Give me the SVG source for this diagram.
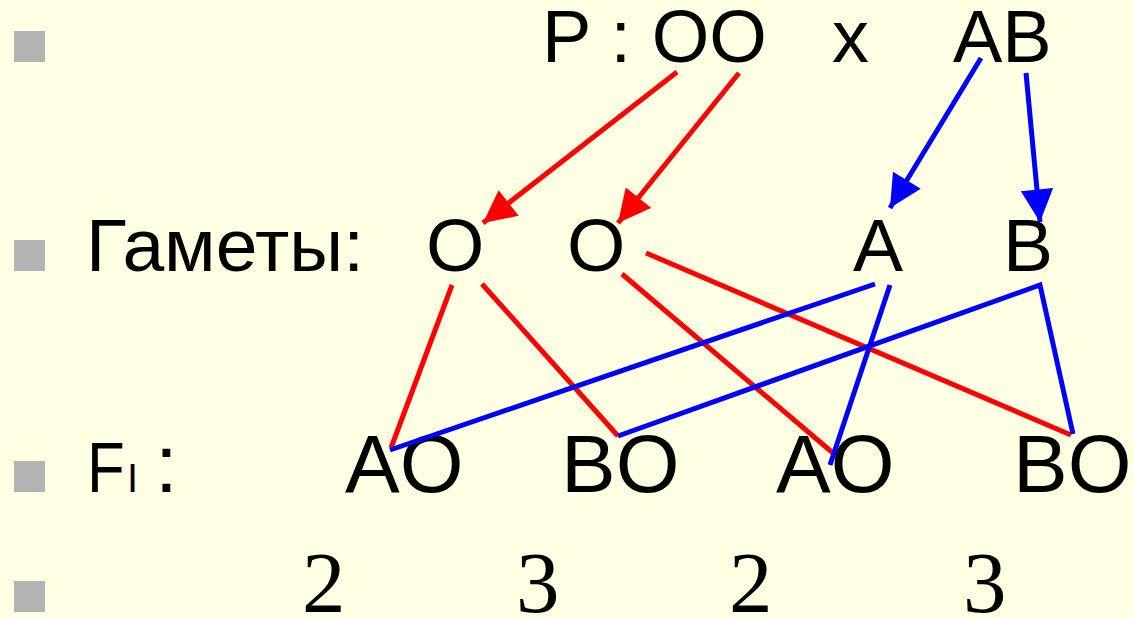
<svg xmlns="http://www.w3.org/2000/svg" width="1134" height="618" viewBox="0 0 1134 618">
<style>
.t{font-family:"Liberation Sans",Arial,sans-serif;fill:#000}
.r1{font-size:74px}
.r2{font-size:75px}
.r3{font-size:82px}
.n{font-family:"Liberation Serif","Times New Roman",serif;font-size:87px;fill:#000}
.b{fill:#b3b3b3}
.red{stroke:#ff0000;stroke-width:5;fill:none}
.blue{stroke:#0000ff;stroke-width:5;fill:none}
</style>
<defs>
<marker id="ar" viewBox="0 0 10 10" refX="10" refY="5" markerWidth="7" markerHeight="6.5" markerUnits="strokeWidth" orient="auto"><path d="M0,0 L10,5 L0,10 z" fill="#ff0000"/></marker>
<marker id="ab" viewBox="0 0 10 10" refX="10" refY="5" markerWidth="7" markerHeight="6.5" markerUnits="strokeWidth" orient="auto"><path d="M0,0 L10,5 L0,10 z" fill="#0000ff"/></marker>
</defs>
<rect width="1134" height="618" fill="#ffffe3"/>
<g id="bullets">
<rect class="b" x="14" y="31" width="31" height="31"/>
<rect class="b" x="14" y="240" width="31" height="31"/>
<rect class="b" x="14" y="461" width="31" height="31"/>
<rect class="b" x="14" y="581" width="31" height="31"/>
</g>
<g id="parents">
<text class="t r1" x="542" y="62">P : OO</text>
<text class="t r1" x="832" y="62">x</text>
<text class="t r1" x="953" y="62">AB</text>
</g>
<g id="gametes-label"><text class="t r2" x="86" y="271">Гаметы:</text></g>
<g id="gamete-O1"><text class="t r2" x="426" y="271">O</text></g>
<g id="gamete-O2"><text class="t r2" x="567" y="271">O</text></g>
<g id="gamete-A"><text class="t r2" x="853" y="271">A</text></g>
<g id="gamete-B"><text class="t r2" x="1003" y="271">B</text></g>
<g id="f1-label">
<text class="t" style="font-size:71px" transform="translate(87,492) scale(0.87,1)" x="0" y="0">F</text>
<text class="t" style="font-size:40px" x="127" y="492">I</text>
<text class="t r3" x="155" y="492">:</text>
</g>
<g id="f1-AO1"><text class="t r3" x="345" y="492">AO</text></g>
<g id="f1-BO1"><text class="t r3" x="561" y="492">BO</text></g>
<g id="f1-AO2"><text class="t r3" x="776" y="492">AO</text></g>
<g id="f1-BO2"><text class="t r3" x="1013" y="492">BO</text></g>
<g id="ratios">
<text class="n" x="302" y="612">2</text>
<text class="n" x="516" y="612">3</text>
<text class="n" x="729" y="612">2</text>
<text class="n" x="963" y="612">3</text>
</g>
<g id="connectors">
<line class="red" x1="677" y1="72" x2="483" y2="223" marker-end="url(#ar)"/>
<line class="red" x1="739" y1="73" x2="618" y2="223" marker-end="url(#ar)"/>
<line class="blue" x1="981" y1="58" x2="890" y2="208" marker-end="url(#ab)"/>
<line class="blue" x1="1026" y1="73" x2="1040" y2="222" marker-end="url(#ab)"/>
<line class="red" x1="452" y1="285" x2="391" y2="448"/>
<line class="red" x1="482" y1="284" x2="618" y2="436"/>
<line class="red" x1="622" y1="274" x2="833" y2="453"/>
<line class="red" x1="646" y1="253" x2="1071" y2="435"/>
<line class="blue" x1="875" y1="284" x2="390" y2="450"/>
<polyline class="blue" points="618,436 1040,285 1073,434"/>
<line class="blue" x1="890" y1="285" x2="830" y2="465"/>
</g>
</svg>
